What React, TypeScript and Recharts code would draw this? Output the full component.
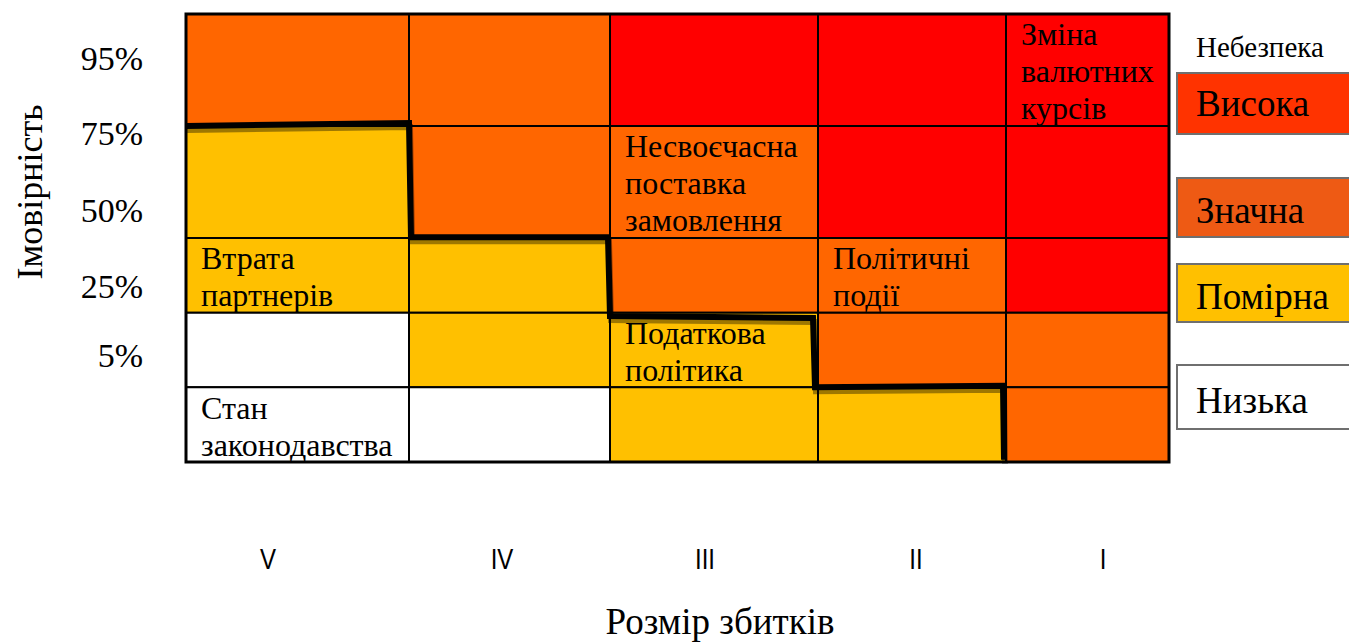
import React from "react";
import {
  ComposedChart,
  XAxis,
  YAxis,
  ReferenceArea,
  Line,
  Label,
} from "recharts";

// impact scale (V .. I) – column boundaries on the x scale
const colEdges = [0, 223, 424, 632, 820, 983];
const damageLabels = ["V", "IV", "III", "II", "I"];
const damageTicks = [82, 316, 519, 730, 917];

// probability scale – row boundaries (bottom to top)
const rowEdges = [0, 1, 2, 3, 4.5, 6];
const probLabels = ["5%", "25%", "50%", "75%", "95%"];
const probTicks = [1.43, 2.36, 3.37, 4.41, 5.41];

// danger level per cell, rows from top (95%) to bottom; 0 high .. 3 low
const levelGrid = [
  [1, 1, 0, 0, 0],
  [2, 1, 1, 0, 0],
  [2, 2, 1, 1, 0],
  [3, 2, 2, 1, 1],
  [3, 3, 2, 2, 1],
];

const levelNames = ["Висока", "Значна", "Помірна", "Низька"];
const cellColors = ["#FF0000", "#FF6600", "#FFC000", "#FFFFFF"];
const legendColors = ["#FF3300", "#EE5A14", "#FFC000", "#FFFFFF"];

const risks = [
  { lines: ["Зміна", "валютних", "курсів"], col: 4, row: 0 },
  { lines: ["Несвоєчасна", "поставка", "замовлення"], col: 2, row: 1 },
  { lines: ["Втрата", "партнерів"], col: 0, row: 2 },
  { lines: ["Політичні", "події"], col: 3, row: 2 },
  { lines: ["Податкова", "політика"], col: 2, row: 3 },
  { lines: ["Стан", "законодавства"], col: 0, row: 4 },
];

// acceptable-risk boundary
const boundary = [
  { x: 0, y: 4.5 },
  { x: 223, y: 4.54 },
  { x: 225, y: 3.01 },
  { x: 422, y: 3.01 },
  { x: 424, y: 1.955 },
  { x: 627, y: 1.93 },
  { x: 629, y: 1.0 },
  { x: 817, y: 1.02 },
  { x: 818, y: 0.03 },
];

const SERIF = '"Liberation Serif", "Times New Roman", serif';
const SANS = '"Liberation Sans", Arial, sans-serif';

function cellText(lines: string[]) {
  return (props: any) => {
    const vb = props.viewBox;
    return (
      <text
        x={vb.x + 15}
        y={vb.y + 20}
        fontFamily={SERIF}
        fontSize={32}
        fill="#000"
      >
        {lines.map((l, i) => (
          <tspan key={i} x={vb.x + 15} dy={i === 0 ? "0.35em" : 37}>
            {l}
          </tspan>
        ))}
      </text>
    );
  };
}

function DamageTick(props: any) {
  const { x, y, payload } = props;
  const i = damageTicks.indexOf(payload.value);
  return (
    <text
      x={x}
      y={y}
      dy="0.71em"
      textAnchor="middle"
      fontFamily={SANS}
      fontSize={30}
      fill="#000"
      transform={`translate(${x},0) scale(0.8,1) translate(${-x},0)`}
    >
      {damageLabels[i]}
    </text>
  );
}

export default function App() {
  const cells: React.ReactNode[] = [];
  levelGrid.forEach((row, t) => {
    row.forEach((lvl, c) => {
      const risk = risks.find((r) => r.col === c && r.row === t);
      cells.push(
        <ReferenceArea
          key={`${t}-${c}`}
          x1={colEdges[c]}
          x2={colEdges[c + 1]}
          y1={rowEdges[4 - t]}
          y2={rowEdges[5 - t]}
          fill={cellColors[lvl]}
          fillOpacity={1}
          stroke="#000"
          strokeWidth={2}
          label={risk ? cellText(risk.lines) : undefined}
        />
      );
    });
  });

  return (
    <div
      style={{
        position: "absolute",
        left: 0,
        top: 0,
        width: 1349,
        height: 643,
        overflow: "hidden",
        background: "#fff",
      }}
    >
      <style>{`.step-line path { filter: drop-shadow(1px 4px 0 rgba(0,0,0,0.38)); }`}</style>
      <ComposedChart
        width={1349}
        height={643}
        margin={{ top: 14, right: 180, bottom: 0, left: 0 }}
      >
        <XAxis
          type="number"
          dataKey="x"
          domain={[0, 983]}
          ticks={damageTicks}
          interval={0}
          height={181}
          axisLine={false}
          tickLine={false}
          tickSize={0}
          tickMargin={86}
          tick={<DamageTick />}
        >
          <Label
            content={() => (
              <text
                x={720}
                y={634}
                textAnchor="middle"
                fontFamily={SERIF}
                fontSize={37}
                fill="#000"
              >
                Розмір збитків
              </text>
            )}
          />
        </XAxis>
        <YAxis
          type="number"
          domain={[0, 6]}
          ticks={probTicks}
          interval={0}
          width={186}
          axisLine={false}
          tickLine={false}
          tickSize={0}
          tickMargin={43}
          tickFormatter={(v: number) => probLabels[probTicks.indexOf(v)]}
          tick={{ fontFamily: SERIF, fontSize: 34, fill: "#000" }}
        >
          <Label
            content={() => (
              <text
                x={30}
                y={192}
                textAnchor="middle"
                dominantBaseline="central"
                transform="rotate(-90 30 192)"
                fontFamily={SERIF}
                fontSize={36}
                fill="#000"
              >
                Імовірність
              </text>
            )}
          />
        </YAxis>
        {cells}
        <ReferenceArea
          x1={0}
          x2={983}
          y1={0}
          y2={6}
          fill="none"
          stroke="#000"
          strokeWidth={3}
        />
        <Line
          className="step-line"
          data={boundary}
          dataKey="y"
          type="linear"
          stroke="#000"
          strokeWidth={6}
          dot={false}
          activeDot={false}
          isAnimationActive={false}
        />
      </ComposedChart>
      <div
        style={{
          position: "absolute",
          left: 1196,
          top: 31,
          fontFamily: SERIF,
          fontSize: 29,
          lineHeight: "32px",
        }}
      >
        Небезпека
      </div>
      {levelNames.map((name, i) => {
        const tops = [72, 177, 263, 364];
        const heights = [63, 61, 60, 66];
        return (
          <div
            key={name}
            style={{
              position: "absolute",
              left: 1176,
              top: tops[i],
              width: 190,
              height: heights[i],
              boxSizing: "border-box",
              background: legendColors[i],
              border: "2px solid #6f6f6f",
              fontFamily: SERIF,
              fontSize: 37,
              display: "flex",
              alignItems: "center",
              paddingLeft: 18,
              paddingTop: i === 0 ? 0 : 6,
            }}
          >
            {name}
          </div>
        );
      })}
    </div>
  );
}
